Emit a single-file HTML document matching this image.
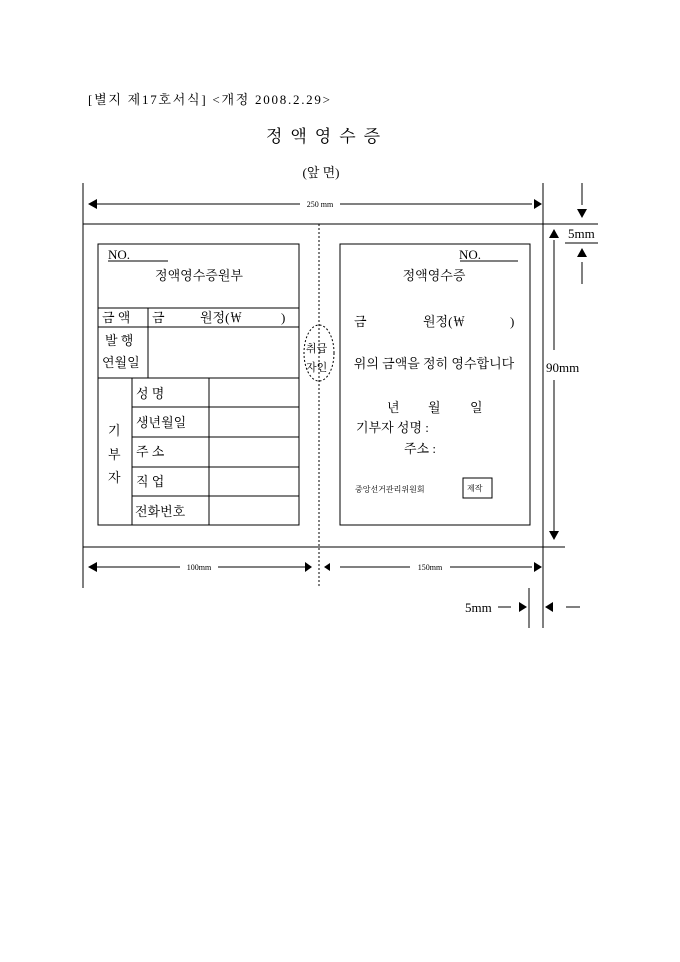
<!DOCTYPE html>
<html><head><meta charset="utf-8"><style>
body{margin:0;background:#fff}
svg{display:block}
text{font-family:"Liberation Serif","Noto Serif CJK SC","Noto Sans CJK KR",serif;fill:#000}
</style></head><body>
<svg width="680" height="962" viewBox="0 0 680 962" xmlns="http://www.w3.org/2000/svg">
<text x="88" y="104" font-size="13" textLength="242" lengthAdjust="spacing">[별지 제17호서식] &lt;개정 2008.2.29&gt;</text>
<text x="327" y="142" font-size="17" text-anchor="middle" letter-spacing="8">정액영수증</text>
<text x="321" y="177" font-size="13" text-anchor="middle">(앞 면)</text>
<g stroke="#000" stroke-width="1" fill="none">
<line x1="83" y1="183" x2="83" y2="588"/>
<line x1="543" y1="183" x2="543" y2="628"/>
<line x1="83" y1="224" x2="598" y2="224"/>
<line x1="83" y1="547" x2="565" y2="547"/>
<line x1="95" y1="204" x2="300" y2="204"/>
<line x1="340" y1="204" x2="532" y2="204"/>
<line x1="319" y1="224" x2="319" y2="588" stroke-dasharray="2,2"/>
<ellipse cx="319" cy="353" rx="15" ry="28" stroke-dasharray="2,2"/>
<rect x="98" y="244" width="201" height="281"/>
<line x1="108" y1="261" x2="168" y2="261"/>
<line x1="98" y1="308" x2="299" y2="308"/>
<line x1="98" y1="327" x2="299" y2="327"/>
<line x1="98" y1="378" x2="299" y2="378"/>
<line x1="148" y1="308" x2="148" y2="378"/>
<line x1="132" y1="378" x2="132" y2="525"/>
<line x1="209" y1="378" x2="209" y2="525"/>
<line x1="132" y1="407" x2="299" y2="407"/>
<line x1="132" y1="437" x2="299" y2="437"/>
<line x1="132" y1="467" x2="299" y2="467"/>
<line x1="132" y1="496" x2="299" y2="496"/>
<rect x="340" y="244" width="190" height="281"/>
<line x1="460" y1="261" x2="518" y2="261"/>
<rect x="463" y="478" width="29" height="20"/>
<line x1="554" y1="240" x2="554" y2="350"/>
<line x1="554" y1="380" x2="554" y2="532"/>
<line x1="582" y1="183" x2="582" y2="205"/>
<line x1="565" y1="243" x2="598" y2="243"/>
<line x1="582" y1="262" x2="582" y2="284"/>
<line x1="95" y1="567" x2="180" y2="567"/>
<line x1="218" y1="567" x2="305" y2="567"/>
<line x1="340" y1="567" x2="410" y2="567"/>
<line x1="450" y1="567" x2="532" y2="567"/>
<line x1="529" y1="588" x2="529" y2="628"/>
<line x1="498" y1="607" x2="511" y2="607"/>
<line x1="566" y1="607" x2="580" y2="607"/>
</g>
<g fill="#000">
<polygon points="88,204 97,199 97,209"/>
<polygon points="542,204 534,199 534,209"/>
<polygon points="577,209 587,209 582,218"/>
<polygon points="577,257 587,257 582,248"/>
<polygon points="549,238 559,238 554,229"/>
<polygon points="549,531 559,531 554,540"/>
<polygon points="88,567 97,562 97,572"/>
<polygon points="312,567 305,562 305,572"/>
<polygon points="324,567 330,563 330,571"/>
<polygon points="542,567 534,562 534,572"/>
<polygon points="527,607 519,602 519,612"/>
<polygon points="545,607 553,602 553,612"/>
</g>
<g font-size="8"><text x="320" y="207" text-anchor="middle">250 mm</text>
<text x="199" y="570" text-anchor="middle">100mm</text>
<text x="430" y="570" text-anchor="middle">150mm</text></g>
<g font-size="13">
<text x="108" y="259">NO.</text>
<text x="199" y="280" text-anchor="middle">정액영수증원부</text>
<text x="102" y="322">금 액</text>
<text x="152" y="322">금</text>
<text x="200" y="322">원정(￦</text>
<text x="281" y="322">)</text>
<text x="105" y="345">발 행</text>
<text x="102" y="367">연월일</text>
<text x="136" y="398">성 명</text>
<text x="136" y="427">생년월일</text>
<text x="136" y="456">주 소</text>
<text x="136" y="486">직 업</text>
<text x="135" y="516">전화번호</text>
<text x="108" y="435">기</text>
<text x="108" y="459">부</text>
<text x="108" y="482">자</text>
<text x="459" y="259">NO.</text>
<text x="434" y="280" text-anchor="middle">정액영수증</text>
<text x="354" y="326">금</text>
<text x="423" y="326">원정(￦</text>
<text x="510" y="326">)</text>
<text x="434" y="368" text-anchor="middle">위의 금액을 정히 영수합니다</text>
<text x="387" y="412">년</text>
<text x="428" y="412">월</text>
<text x="470" y="412">일</text>
<text x="356" y="432">기부자 성명 :</text>
<text x="404" y="453">주소 :</text>
<text x="546" y="372">90mm</text>
<text x="568" y="238">5mm</text>
<text x="465" y="612">5mm</text>
</g>
<g font-size="11"><text x="306" y="352">취급</text><text x="306" y="371">자인</text></g>
<g font-size="8"><text x="355" y="492">중앙선거관리위원회</text><text x="467" y="491">제작</text></g>
</svg>
</body></html>
